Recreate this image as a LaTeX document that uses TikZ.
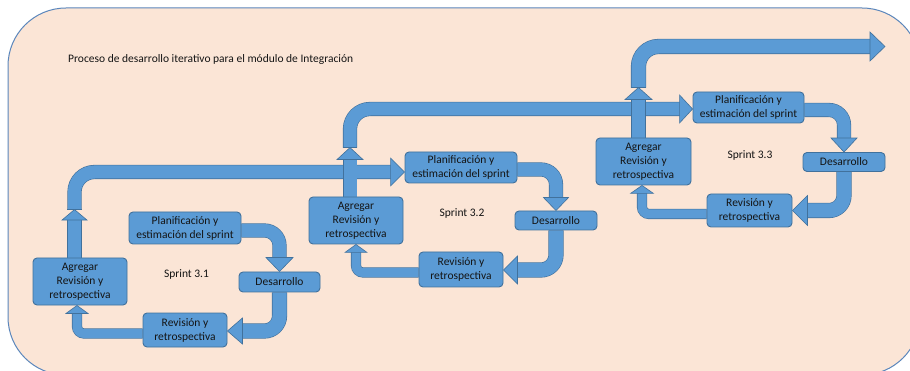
\documentclass[tikz,border=0pt]{standalone}
\usepackage{fontspec}
\setmainfont{Carlito}
\usetikzlibrary{calc}

\definecolor{paper}{HTML}{FBE5D6}
\definecolor{frame}{HTML}{5A86BC}
\definecolor{boxfill}{HTML}{5B9BD5}
\definecolor{boxedge}{HTML}{41719C}
\definecolor{ink}{HTML}{141414}

\pgfdeclarelayer{back}
\pgfdeclarelayer{flow}
\pgfsetlayers{back,flow,main}

\tikzset{
  stepbox/.style={draw=boxedge, fill=boxfill, line width=0.9pt, rounded corners=4pt,
    inner sep=0pt, align=center, text=ink, font=\fontsize{11.5}{14}\selectfont},
  plaintext/.style={inner sep=0pt, text=ink, font=\fontsize{11.5}{14}\selectfont},
  shaft/.style={draw=boxedge, line width=0.6pt, double=boxfill, double distance=#1},
  head/.style={draw=boxedge, fill=boxfill, line width=0.6pt, line join=miter},
  capline/.style={draw=boxedge, line width=0.6pt},
}

% block arrow heads: tip, length, half width
\newcommand\hup[3]{\filldraw[head] (#1) -- ++(-#3,#2) -- ++(2*#3,0) -- cycle;}
\newcommand\hdown[3]{\filldraw[head] (#1) -- ++(-#3,-#2) -- ++(2*#3,0) -- cycle;}
\newcommand\hleft[3]{\filldraw[head] (#1) -- ++(#2,-#3) -- ++(0,2*#3) -- cycle;}
\newcommand\hright[3]{\filldraw[head] (#1) -- ++(-#2,-#3) -- ++(0,2*#3) -- cycle;}

\begin{document}
\begin{tikzpicture}[x=1pt,y=-1pt]
\useasboundingbox (0,0) rectangle (910,371);
\clip (0,0) rectangle (910,371);

\begin{pgfonlayer}{back}
  \fill[white] (0,0) rectangle (910,371);
  \draw[draw=frame, fill=paper, line width=1pt, rounded corners=58pt] (8,8) rectangle (920,375);
\end{pgfonlayer}

\node[plaintext, anchor=west] (title) at (68,59) {Proceso de desarrollo iterativo para el módulo de Integración};

% Sprint 3.1
\node[stepbox, minimum width=94pt, minimum height=47pt] (A1) at (80,281.5) {Agregar\\Revisión y\\retrospectiva};
\node[stepbox, minimum width=112pt, minimum height=32pt] (P1) at (185,228) {Planificación y\\estimación del sprint};
\node[stepbox, minimum width=81pt, minimum height=20pt] (D1) at (279.5,282) {Desarrollo};
\node[stepbox, minimum width=84pt, minimum height=34pt] (R1) at (185,330) {Revisión y\\retrospectiva};
\node[plaintext] (S1) at (186.5,274) {Sprint 3.1};

% Sprint 3.2
\node[stepbox, minimum width=94pt, minimum height=47pt] (A2) at (356,220.5) {Agregar\\Revisión y\\retrospectiva};
\node[stepbox, minimum width=112pt, minimum height=31pt] (P2) at (461,167.5) {Planificación y\\estimación del sprint};
\node[stepbox, minimum width=82pt, minimum height=19pt] (D2) at (556,220.5) {Desarrollo};
\node[stepbox, minimum width=84pt, minimum height=35pt] (R2) at (461,269.5) {Revisión y\\retrospectiva};
\node[plaintext] (S2) at (462,213) {Sprint 3.2};

% Sprint 3.3
\node[stepbox, minimum width=95pt, minimum height=47pt] (A3) at (643.5,161.5) {Agregar\\Revisión y\\retrospectiva};
\node[stepbox, minimum width=111pt, minimum height=31pt] (P3) at (748.5,107.5) {Planificación y\\estimación del sprint};
\node[stepbox, minimum width=82pt, minimum height=19pt] (D3) at (844,162) {Desarrollo};
\node[stepbox, minimum width=85pt, minimum height=33pt] (R3) at (749.5,210.5) {Revisión y\\retrospectiva};
\node[plaintext] (S3) at (750,155) {Sprint 3.3};

\coordinate (exit) at (885,46.5);

\begin{pgfonlayer}{flow}
  % tips of the upward arrows leaving each "Agregar" box
  \coordinate (u1) at ([xshift=-5.5pt,yshift=48pt]A1.north);
  \coordinate (u2) at ([xshift=-6pt,yshift=49pt]A2.north);
  \coordinate (u3) at ([xshift=-5pt,yshift=50pt]A3.north);

  % main flow between sprints
  \draw[shaft=13, rounded corners=20pt] (u1) |- ([xshift=-13.5pt,yshift=-4.5pt]P2.west);
  \draw[capline] ([xshift=-7.1pt]u1) -- ([xshift=7.1pt]u1);
  \hright{[yshift=-4.5pt]P2.west}{14}{14}
  \draw[shaft=13, rounded corners=20pt] (u2) |- ([xshift=-12.5pt,yshift=-1.5pt]P3.west);
  \draw[capline] ([xshift=-7.1pt]u2) -- ([xshift=7.1pt]u2);
  \hright{[yshift=-1.5pt]P3.west}{13}{14}
  \draw[shaft=14, rounded corners=20pt] (u3) |- ([xshift=-14.5pt]exit);
  \draw[capline] ([xshift=-7.6pt]u3) -- ([xshift=7.6pt]u3);
  \hright{exit}{15}{14.5}

  % sprint 3.1 loop
  \draw[shaft=13, rounded corners=15pt] ([yshift=-2.5pt]P1.east) -| ([yshift=13.5pt]D1.north);
  \hdown{D1.north}{14}{13.5}
  \draw[shaft=14, rounded corners=15pt] (D1.south) |- ([xshift=14.5pt,yshift=-1pt]R1.east);
  \hleft{[yshift=-1pt]R1.east}{15}{13}
  \draw[shaft=9, rounded corners=7pt] ([yshift=-3.5pt]R1.west) -| ([xshift=-3pt,yshift=-7.5pt]A1.south);
  \hup{[xshift=-3pt]A1.south}{8}{11}

  % sprint 3.2 loop
  \draw[shaft=13, rounded corners=15pt] ([yshift=-2pt]P2.east) -| ([yshift=12.5pt]D2.north);
  \hdown{D2.north}{13}{12.5}
  \draw[shaft=14, rounded corners=15pt] (D2.south) |- ([xshift=13.5pt,yshift=-0.5pt]R2.east);
  \hleft{[yshift=-0.5pt]R2.east}{14}{14}
  \draw[shaft=9, rounded corners=7pt] ([yshift=-3pt]R2.west) -| ([yshift=-7.5pt]A2.south);
  \hup{A2.south}{8}{11}

  % sprint 3.3 loop
  \draw[shaft=13, rounded corners=15pt] ([yshift=-2.5pt]P3.east) -| ([yshift=13.5pt]D3.north);
  \hdown{D3.north}{14}{13}
  \draw[shaft=14, rounded corners=15pt] (D3.south) |- ([xshift=14.5pt]R3.east);
  \hleft{R3.east}{15}{15}
  \draw[shaft=9, rounded corners=7pt] ([yshift=-3.5pt]R3.west) -| ([xshift=-1.5pt,yshift=-7.5pt]A3.south);
  \hup{[xshift=-1.5pt]A3.south}{8}{11.5}

  % upward arrows out of each "Agregar" box, over the main flow
  \draw[shaft=13] ([xshift=-5.5pt]A1.north) -- ([yshift=-10pt]u1);
  \hup{u1}{10.5}{12.5}
  \draw[shaft=13] ([xshift=-6pt]A2.north) -- ([yshift=-11.5pt]u2);
  \hup{u2}{12}{13}
  \draw[shaft=13] ([xshift=-5pt]A3.north) -- ([yshift=-11.5pt]u3);
  \hup{u3}{12}{13.5}
\end{pgfonlayer}
\end{tikzpicture}
\end{document}
